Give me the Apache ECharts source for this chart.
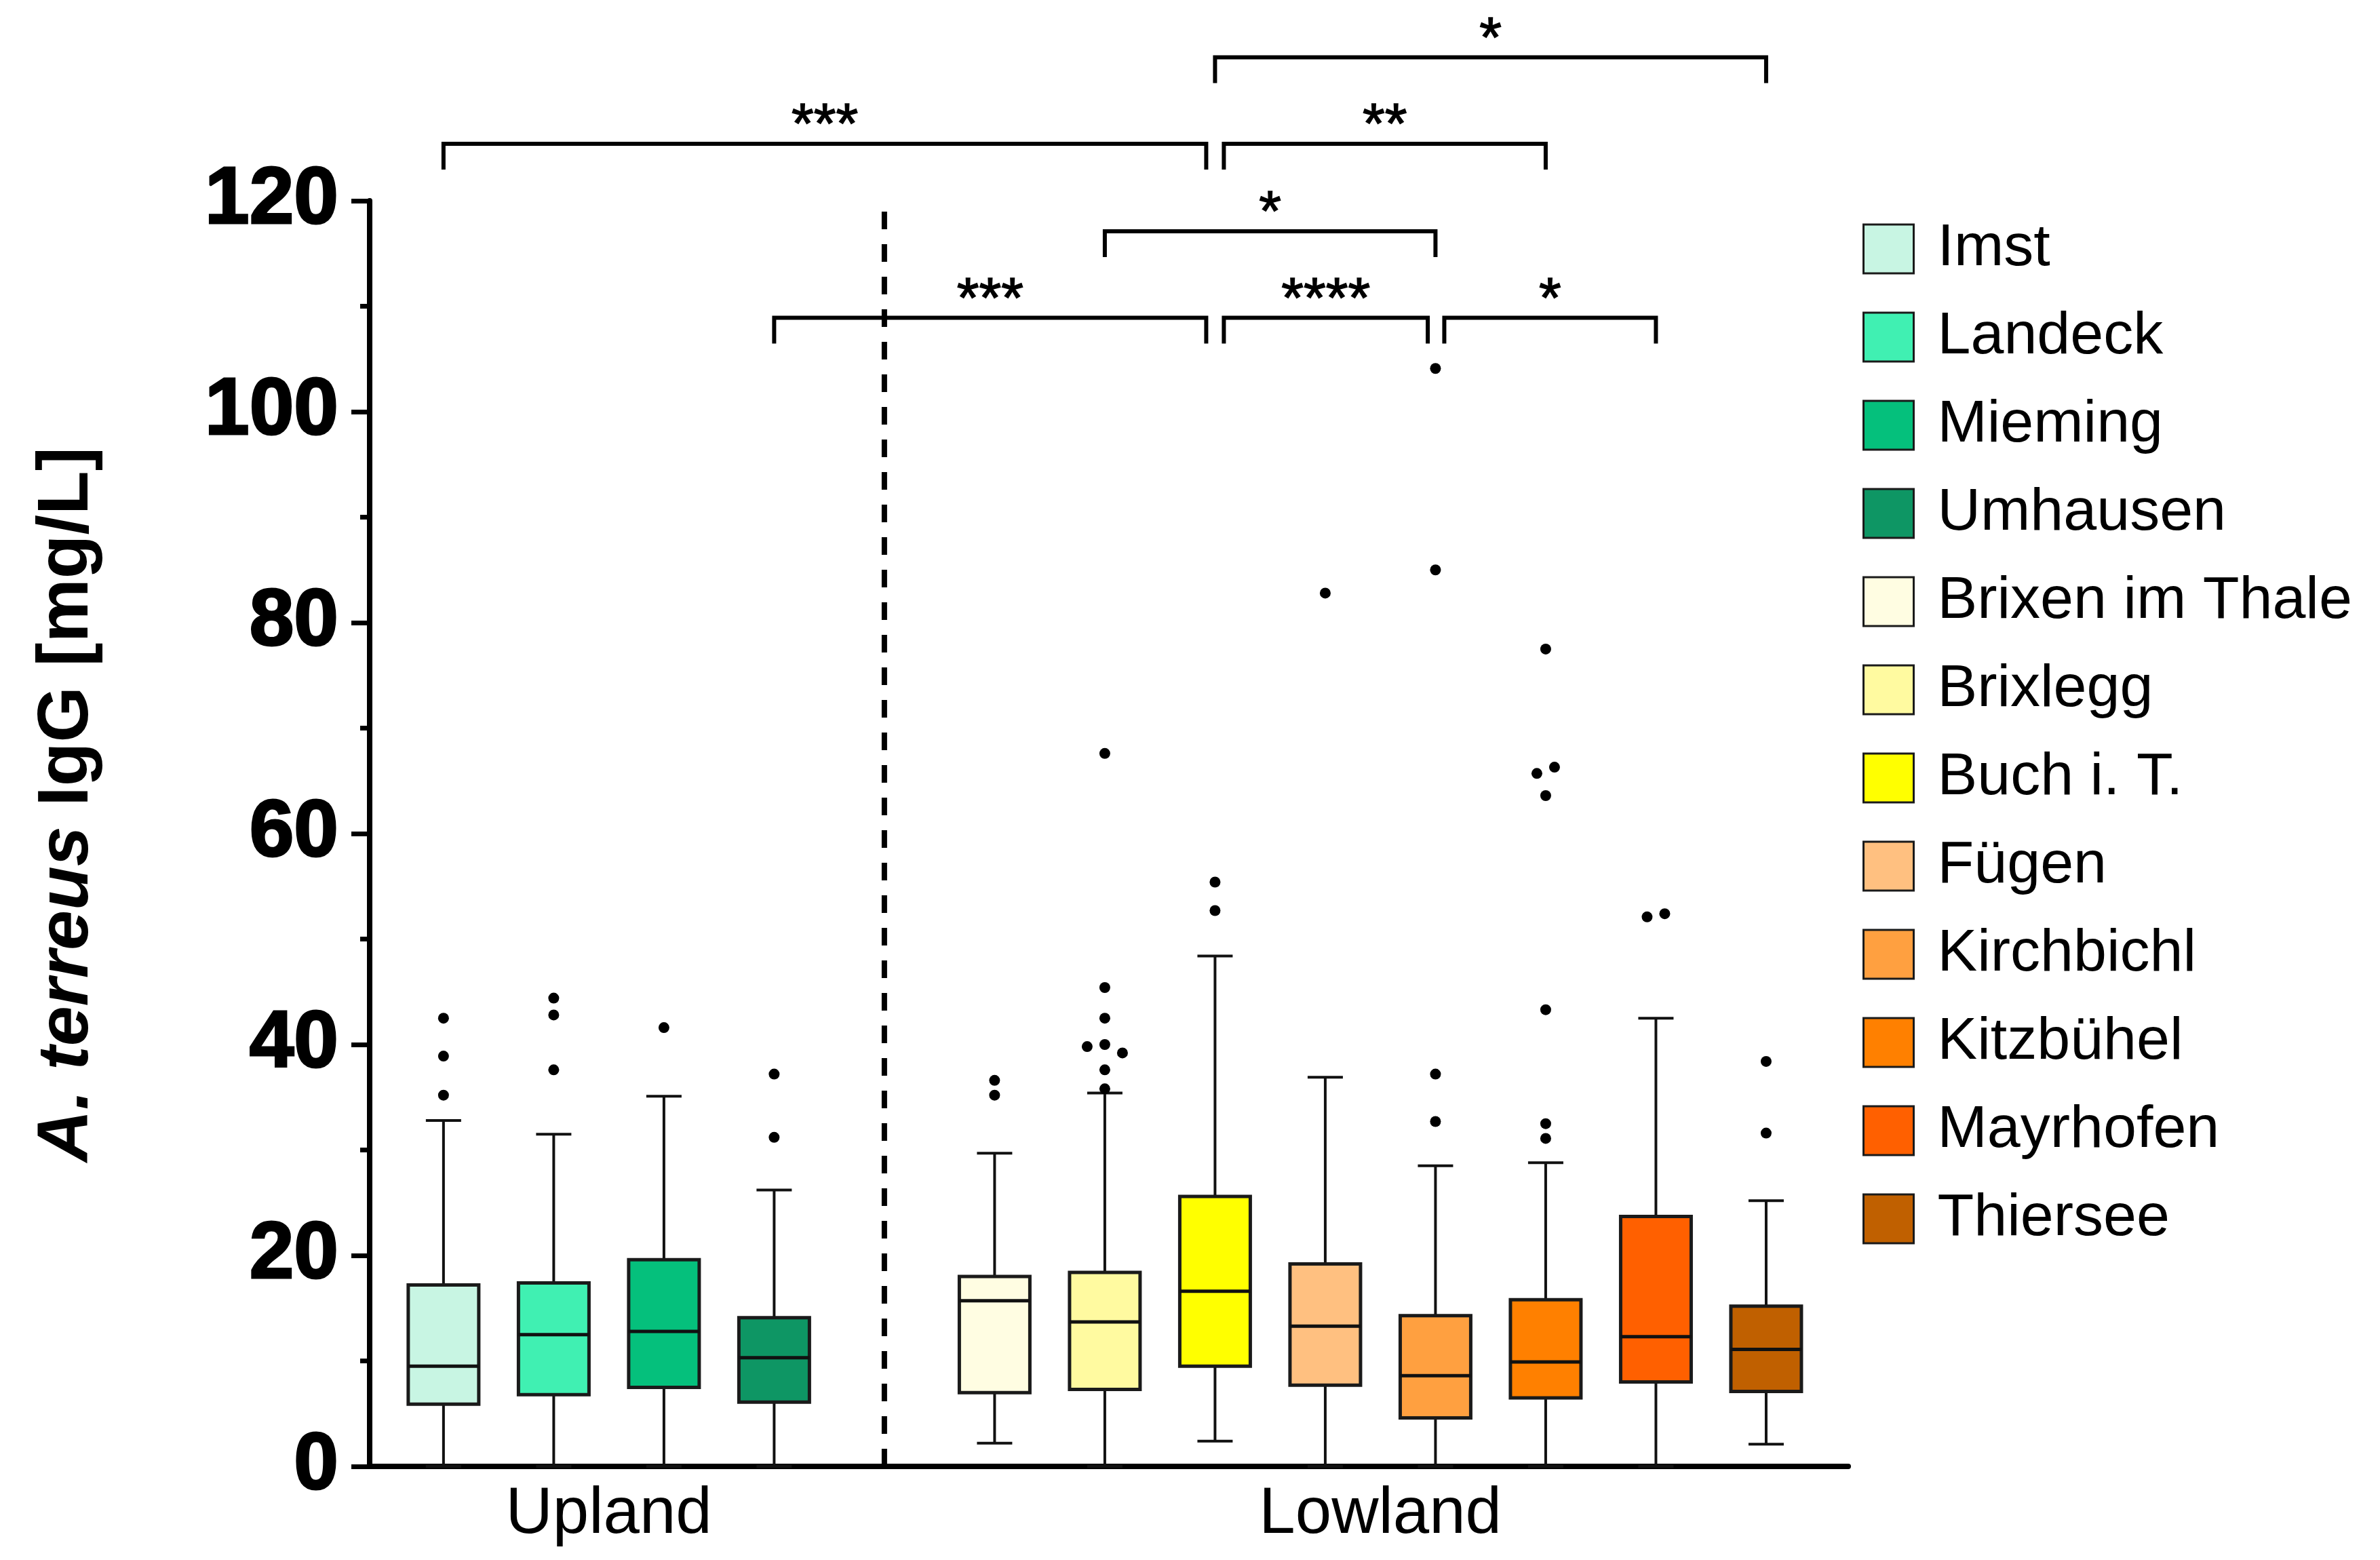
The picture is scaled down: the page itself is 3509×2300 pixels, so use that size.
<!DOCTYPE html>
<html><head><meta charset="utf-8">
<script src="https://cdn.jsdelivr.net/npm/echarts@6/dist/echarts.min.js"></script>
<style>html,body{margin:0;padding:0;background:#fff}#c{width:3509px;height:2300px}</style>
</head><body><div id="c"></div>
<script>
// ---- data ----
const sites = ['Imst','Landeck','Mieming','Umhausen','Brixen im Thale','Brixlegg','Buch i. T.','Fügen','Kirchbichl','Kitzbühel','Mayrhofen','Thiersee'];
const sitePos = [0,1,2,3,5,6,7,8,9,10,11,12];
const siteColors = ['#c8f5e3','#40f0b2','#05c07c','#0e9664','#fffde2','#fffaa0','#ffff00','#ffc080','#ffa040','#ff8000','#ff6000','#c06000'];
const boxMin    = [0,   0,   0,   0,   2.2, 0,   2.4, 0,   0,   0,   0,   2.1];
const boxQ1     = [5.9, 6.8, 7.5, 6.1, 7.0, 7.3, 9.5, 7.7, 4.6, 6.5, 8.0, 7.1];
const boxMedian = [9.5, 12.5,12.8,10.3,15.7,13.7,16.6,13.3,8.6, 9.9, 12.3,11.1];
const boxQ3     = [17.2,17.4,19.6,14.1,18.0,18.4,25.6,19.2,14.3,15.8,23.7,15.2];
const boxMax    = [32.8,31.5,35.1,26.2,29.7,35.4,48.4,36.9,28.5,28.8,42.5,25.2];
const outliers = [
  [0,42.5],[0,38.9],[0,35.2],
  [1,44.4],[1,42.8],[1,37.6],
  [2,41.6],
  [3,37.2],[3,31.2],
  [5,36.6],[5,35.2],
  [6,67.6],[6,45.4],[6,42.5],[5.84,39.8],[6,40.0],[6.16,39.2],[6,37.6],[6,35.8],
  [7,55.4],[7,52.7],
  [8,82.8],
  [9,104.1],[9,85.0],[9,37.2],[9,32.7],
  [10,77.5],[10.08,66.3],[9.92,65.7],[10,63.6],[10,43.3],[10,32.5],[10,31.1],
  [10.92,52.1],[11.08,52.4],
  [12,38.4],[12,31.6]
];
const groupLabels = ['Upland','Lowland'];
const groupCenters = [1.5, 8.5];
const dividerPos = [4];
// brackets: [fromX, toX, level]
const brackets = [
  [0, 6.92, 125.4],
  [7.0, 12, 133.6],
  [7.08, 10, 125.4],
  [6, 9, 117.1],
  [3, 6.92, 108.9],
  [7.08, 8.93, 108.9],
  [9.08, 11, 108.9]
];
const bracketLabels = ['***','*','**','*','***','****','*'];
const yTicks = [0,20,40,60,80,100,120];

// ---- chart ----
const FONT = "'Liberation Sans', Arial, Helvetica, sans-serif";
const boxData = sites.map((s,i)=>[sitePos[i], boxMin[i], boxQ1[i], boxMedian[i], boxQ3[i], boxMax[i], i]);

const chart = echarts.init(document.getElementById('c'), null, {renderer:'canvas'});
const series = [];
sites.forEach((s,i)=>{
  series.push({name:s, type:'scatter', data:[], itemStyle:{color:siteColors[i], opacity:1}});
});
series.push({
  type:'custom', z:3, clip:false,
  data: boxData,
  renderItem(params, api){
    const x = api.value(0);
    const lo = api.coord([x, api.value(1)]);
    const q1 = api.coord([x, api.value(2)]);
    const md = api.coord([x, api.value(3)]);
    const q3 = api.coord([x, api.value(4)]);
    const hi = api.coord([x, api.value(5)]);
    const ci = api.value(6);
    const half = 52, cap = 26;
    const ws = {stroke:'#111', lineWidth:4};
    return {type:'group', children:[
      {type:'line', shape:{x1:lo[0],y1:lo[1],x2:q1[0],y2:q1[1]}, style:ws},
      {type:'line', shape:{x1:hi[0],y1:hi[1],x2:q3[0],y2:q3[1]}, style:ws},
      {type:'line', shape:{x1:hi[0]-cap,y1:hi[1],x2:hi[0]+cap,y2:hi[1]}, style:ws},
      {type:'line', shape:{x1:lo[0]-cap,y1:lo[1],x2:lo[0]+cap,y2:lo[1]}, style:ws},
      {type:'rect', shape:{x:q3[0]-half, y:q3[1], width:2*half, height:q1[1]-q3[1]}, style:{fill:siteColors[ci], stroke:'#1a1a1a', lineWidth:5}},
      {type:'line', shape:{x1:md[0]-half,y1:md[1],x2:md[0]+half,y2:md[1]}, style:{stroke:'#111', lineWidth:5}}
    ]};
  }
});
series.push({
  type:'scatter', z:4, data: outliers, symbol:'circle', symbolSize:16,
  itemStyle:{color:'#000', opacity:1}
});
series.push({
  type:'custom', z:2, clip:false, data: dividerPos,
  renderItem(params, api){
    const a = api.coord([api.value(0), yTicks[0]]);
    const b = api.coord([api.value(0), yTicks[yTicks.length-1]]);
    return {type:'line', shape:{x1:a[0],y1:a[1],x2:b[0],y2:b[1]}, style:{stroke:'#000', lineWidth:8, lineDash:[26,22]}};
  }
});
series.push({
  type:'custom', z:5, clip:false, data: brackets,
  renderItem(params, api){
    const lvl = api.value(2);
    const a = api.coord([api.value(0), lvl]);
    const b = api.coord([api.value(1), lvl]);
    const drop = 38;
    return {type:'group', children:[
      {type:'polyline', shape:{points:[[a[0],a[1]+drop],[a[0],a[1]],[b[0],b[1]],[b[0],b[1]+drop]]}, style:{stroke:'#000', lineWidth:6, fill:null}},
      {type:'text', x:(a[0]+b[0])/2, y:a[1]-24, style:{text:bracketLabels[params.dataIndex], fontSize:84, fontFamily:FONT, fill:'#000', stroke:'#000', lineWidth:1.5, align:'center', verticalAlign:'middle'}}
    ]};
  }
});

chart.setOption({
  animation:false,
  backgroundColor:'#fff',
  grid:{left:545, right:784, top:296, bottom:138, containLabel:false},
  xAxis:{
    type:'value', min:-0.67, max:12.745,
    splitLine:{show:false},
    axisTick:{show:false},
    axisLine:{show:true, onZero:false, lineStyle:{color:'#000', width:8}},
    axisLabel:{
      customValues: groupCenters,
      margin:24, fontSize:96, color:'#000', fontFamily:FONT,
      formatter:(v)=>{ const k = groupCenters.indexOf(v); return k>=0 ? groupLabels[k] : ''; }
    }
  },
  yAxis:{
    type:'value', min:0, max:120, interval:20,
    splitLine:{show:false},
    axisLine:{show:true, onZero:false, lineStyle:{color:'#000', width:8}},
    axisTick:{show:true, length:27, lineStyle:{color:'#000', width:7}},
    minorTick:{show:true, splitNumber:2, length:14, lineStyle:{color:'#000', width:7}},
    axisLabel:{margin:46, fontSize:118, fontWeight:'bold', color:'#000', fontFamily:FONT, textBorderColor:'#000', textBorderWidth:3}
  },
  legend:{
    orient:'vertical', left:2741, top:318,
    data: sites, icon:'rect',
    itemWidth:74, itemHeight:72, itemGap:42,
    itemStyle:{borderColor:'#1a1a1a', borderWidth:3, opacity:1},
    formatter: n => '{n|' + n + '}',
    textStyle:{color:'#000', fontSize:88, fontFamily:FONT, rich:{n:{fontSize:88, fontFamily:FONT, color:'#000', padding:[0,0,0,30]}}},
    selectedMode:false
  },
  graphic:[{
    type:'text', x:100, y:1186, rotation:Math.PI/2,
    style:{
      text:'{i|A. terreus} IgG [mg/L]',
      align:'center', verticalAlign:'middle',
      fontSize:106, fontWeight:'bold', fontFamily:FONT, fill:'#000',
      rich:{i:{fontSize:106, fontWeight:'bold', fontStyle:'italic', fontFamily:FONT, fill:'#000'}}
    }
  }],
  series
});
</script></body></html>
